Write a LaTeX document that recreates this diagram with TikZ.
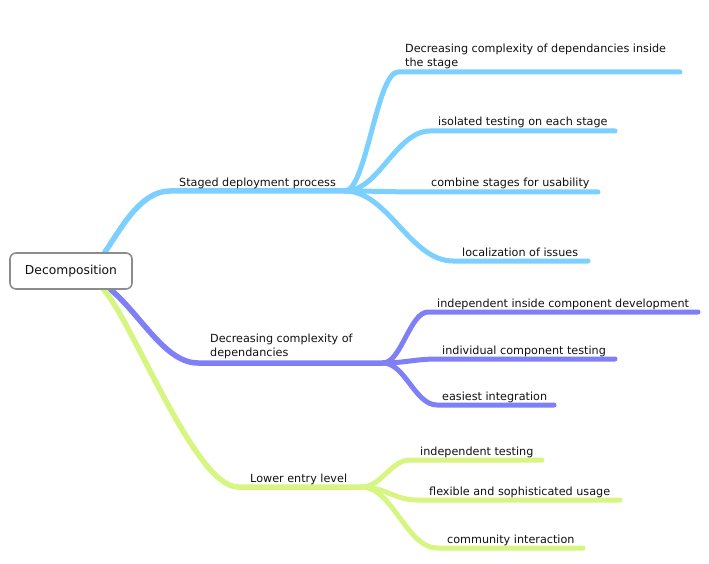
\documentclass[tikz,border=0pt]{standalone}
\usepackage{fontspec}
\setmainfont{DejaVu Sans}
\usetikzlibrary{backgrounds}
\definecolor{bluebr}{HTML}{7BD0FF}
\definecolor{purplebr}{HTML}{7F7FF8}
\definecolor{greenbr}{HTML}{D6F681}
\definecolor{txt}{HTML}{101010}
\definecolor{rootborder}{HTML}{8C8C8C}
\tikzset{
  rootbox/.style={draw=rootborder, line width=1.6pt, rounded corners=6pt, fill=white,
    minimum width=122pt, minimum height=36pt, inner sep=0pt, text=txt,
    font=\fontsize{12.3}{14}\selectfont},
  lbl/.style={anchor=base west, inner sep=0pt, text=txt, font=\fontsize{11.2}{14.5}\selectfont},
  mlbl/.style={anchor=south west, inner sep=0pt, text=txt, align=left, font=\fontsize{11.2}{14}\selectfont},
  mainbr/.style={line width=5.5pt, line cap=round},
  childbr/.style={line width=5pt, line cap=round},
}
\begin{document}
\begin{tikzpicture}[x=1pt, y=-1pt]
\useasboundingbox (0,0) rectangle (709,564);
\node[rootbox] (root) at (71,271) {Decomposition};

% coordinates
\coordinate (rb) at ([xshift=-28pt]root.north east);
\coordinate (rp) at ([xshift=-22pt]root.south east);
\coordinate (rg) at ([xshift=-29pt]root.south east);

\coordinate (SB) at (170,191); \coordinate (JB) at (345,191);
\coordinate (B1s) at (398,72);  \coordinate (B1e) at (680,72);
\coordinate (B2s) at (430,131); \coordinate (B2e) at (615,131);
\coordinate (B3s) at (423,192); \coordinate (B3e) at (598,192);
\coordinate (B4s) at (453,261); \coordinate (B4e) at (588,261);

\coordinate (SP) at (198,363); \coordinate (JP) at (383,363);
\coordinate (P1s) at (428,312); \coordinate (P1e) at (698,312);
\coordinate (P2s) at (437,359); \coordinate (P2e) at (615,359);
\coordinate (P3s) at (437,405); \coordinate (P3e) at (554,405);

\coordinate (SG) at (238,487); \coordinate (JG) at (362,487);
\coordinate (G1s) at (410,460); \coordinate (G1e) at (542,460);
\coordinate (G2s) at (417,500); \coordinate (G2e) at (620,500);
\coordinate (G3s) at (437,548); \coordinate (G3e) at (583,548);

\begin{scope}[on background layer]
% blue
\draw[mainbr, bluebr] (rb) .. controls +(16,-23) and +(-30,0) .. (SB) -- (JB);
\draw[childbr, bluebr] (JB) .. controls +(21,0) and +(-21,0) .. (B1s) -- (B1e);
\draw[childbr, bluebr] (JB) .. controls +(34,0) and +(-34,0) .. (B2s) -- (B2e);
\draw[childbr, bluebr] (JB) .. controls +(31,0) and +(-31,0) .. (B3s) -- (B3e);
\draw[childbr, bluebr] (JB) .. controls +(43,0) and +(-43,0) .. (B4s) -- (B4e);
% purple
\draw[mainbr, purplebr] (rp) .. controls +(30,25) and +(-33,0) .. (SP) -- (JP);
\draw[childbr, purplebr] (JP) .. controls +(18,0) and +(-18,0) .. (P1s) -- (P1e);
\draw[childbr, purplebr] (JP) .. controls +(22,0) and +(-22,0) .. (P2s) -- (P2e);
\draw[childbr, purplebr] (JP) .. controls +(22,0) and +(-22,0) .. (P3s) -- (P3e);
% green
\draw[mainbr, greenbr] (rg) .. controls +(30,34) and +(-43,0) .. (SG) -- (JG);
\draw[childbr, greenbr] (JG) .. controls +(19,0) and +(-19,0) .. (G1s) -- (G1e);
\draw[childbr, greenbr] (JG) .. controls +(22,0) and +(-22,0) .. (G2s) -- (G2e);
\draw[childbr, greenbr] (JG) .. controls +(30,0) and +(-30,0) .. (G3s) -- (G3e);
\end{scope}

% labels
\node[lbl] (lB) at (179,186) {Staged deployment process};
\node[mlbl] (lB1) at (405,69) {Decreasing complexity of dependancies inside\\the stage};
\node[lbl] (lB2) at (438,126) {isolated testing on each stage};
\node[lbl] (lB3) at (431,187) {combine stages for usability};
\node[lbl] (lB4) at (462,256) {localization of issues};

\node[mlbl] (lP) at (210,359.5) {Decreasing complexity of\\dependancies};
\node[lbl] (lP1) at (437,307) {independent inside component development};
\node[lbl] (lP2) at (442,354) {individual component testing};
\node[lbl] (lP3) at (442,400) {easiest integration};

\node[lbl] (lG) at (250,482) {Lower entry level};
\node[lbl] (lG1) at (420,455) {independent testing};
\node[lbl] (lG2) at (429,495) {flexible and sophisticated usage};
\node[lbl] (lG3) at (447,543) {community interaction};
\end{tikzpicture}
\end{document}
